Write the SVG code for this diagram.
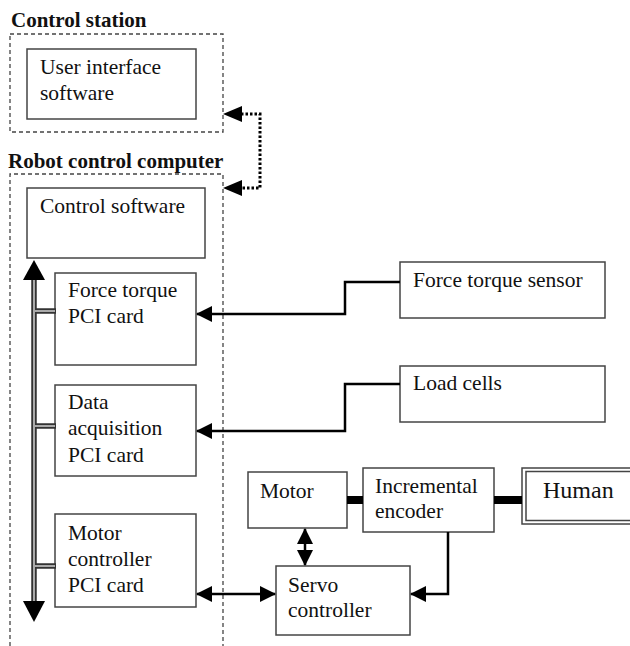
<svg xmlns="http://www.w3.org/2000/svg" width="630" height="646" viewBox="0 0 630 646">
  <defs>
    <marker id="arrow" viewBox="0 0 16 16" refX="15" refY="8" markerWidth="16" markerHeight="16" markerUnits="userSpaceOnUse" orient="auto-start-reverse">
      <path d="M0,0 L16,8 L0,16 Z" fill="#000"/>
    </marker>
  </defs>
  <style>
    .box { fill: #fff; stroke: #444; stroke-width: 1.5; }
    .frame { fill: none; stroke: #444; stroke-width: 1.3; stroke-dasharray: 4 3; }
    .lbl { font-family: 'Liberation Serif', 'Times New Roman', serif; font-size: 21.5px; fill: #111; }
    .title { font-family: 'Liberation Serif', 'Times New Roman', serif; font-size: 21px; font-weight: bold; fill: #111; }
    .wire { fill: none; stroke: #000; stroke-width: 2.5; }
    .bus-edge { stroke: #333; stroke-width: 5.5; fill: none; }
    .bus-core { stroke: #aaa; stroke-width: 2; fill: none; }
    .link { fill: #000; }
  </style>

  <!-- enclosures -->
  <g id="control-station">
    <text class="title" x="11" y="27">Control station</text>
    <rect class="frame" x="10" y="34" width="213" height="98"/>
  </g>
  <g id="robot-control-computer">
    <text class="title" x="8" y="168">Robot control computer</text>
    <path class="frame" d="M10,646 V174 H223 V646"/>
  </g>

  <!-- nodes -->
  <g id="user-interface">
    <rect class="box" x="27" y="49" width="169" height="70"/>
    <text class="lbl" x="40" y="74">User interface</text>
    <text class="lbl" x="40" y="100">software</text>
  </g>
  <g id="control-software">
    <rect class="box" x="27" y="188" width="178" height="70"/>
    <text class="lbl" x="40" y="213">Control software</text>
  </g>
  <g id="ft-pci">
    <rect class="box" x="55" y="273" width="141" height="92"/>
    <text class="lbl" x="68" y="297">Force torque</text>
    <text class="lbl" x="68" y="323">PCI card</text>
  </g>
  <g id="daq-pci">
    <rect class="box" x="55" y="385" width="141" height="91"/>
    <text class="lbl" x="68" y="409">Data</text>
    <text class="lbl" x="68" y="435">acquisition</text>
    <text class="lbl" x="68" y="462">PCI card</text>
  </g>
  <g id="motor-pci">
    <rect class="box" x="55" y="514" width="141" height="93"/>
    <text class="lbl" x="68" y="540">Motor</text>
    <text class="lbl" x="68" y="566">controller</text>
    <text class="lbl" x="68" y="592">PCI card</text>
  </g>
  <g id="ft-sensor">
    <rect class="box" x="400" y="262" width="205" height="56"/>
    <text class="lbl" x="413" y="287">Force torque sensor</text>
  </g>
  <g id="load-cells">
    <rect class="box" x="400" y="366" width="205" height="56"/>
    <text class="lbl" x="413" y="390">Load cells</text>
  </g>
  <g id="motor">
    <rect class="box" x="248" y="472" width="99" height="56"/>
    <text class="lbl" x="260" y="498">Motor</text>
  </g>
  <g id="encoder">
    <rect class="box" x="363" y="468" width="131" height="64"/>
    <text class="lbl" x="375" y="493">Incremental</text>
    <text class="lbl" x="375" y="518">encoder</text>
  </g>
  <g id="servo">
    <rect class="box" x="276" y="566" width="134" height="69"/>
    <text class="lbl" x="288" y="592">Servo</text>
    <text class="lbl" x="288" y="617">controller</text>
  </g>
  <g id="human">
    <rect class="box" x="522" y="468" width="130" height="56"/>
    <rect class="box" x="526" y="471.5" width="130" height="49"/>
    <text class="lbl" x="543" y="498" style="font-size:24px">Human</text>
  </g>

  <!-- connectors -->
  <g id="connectors">
    <!-- PCI bus -->
    <path class="bus-edge" d="M34,278 V602 M35,311 H56 M35,426 H56 M35,566 H56"/>
    <path class="bus-core" d="M34,278 V602 M33,311 H55 M33,426 H55 M33,566 H55"/>
    <polygon class="link" points="34,260 23,280 45,280"/>
    <polygon class="link" points="34,622 23,601 45,601"/>

    <!-- network link between stations -->
    <path d="M241,114 H260 V188 H241" fill="none" stroke="#000" stroke-width="3" stroke-dasharray="2.5 2"/>
    <polygon class="link" points="223,114 242,106 242,122"/>
    <polygon class="link" points="223,188 242,180 242,196"/>

    <!-- sensor signals -->
    <polyline class="wire" points="400,282 345,282 345,314 197,314" marker-end="url(#arrow)"/>
    <polyline class="wire" points="400,384 345,384 345,431 197,431" marker-end="url(#arrow)"/>

    <!-- motor control -->
    <line class="wire" x1="197" y1="594" x2="275" y2="594" marker-start="url(#arrow)" marker-end="url(#arrow)"/>
    <line class="wire" x1="305" y1="529" x2="305" y2="565" marker-start="url(#arrow)" marker-end="url(#arrow)"/>
    <polyline class="wire" points="448,532 448,594 411,594" marker-end="url(#arrow)"/>

    <!-- mechanical couplings -->
    <rect class="link" x="347" y="496" width="16" height="8"/>
    <rect class="link" x="494" y="496" width="28" height="8"/>
  </g>
</svg>
